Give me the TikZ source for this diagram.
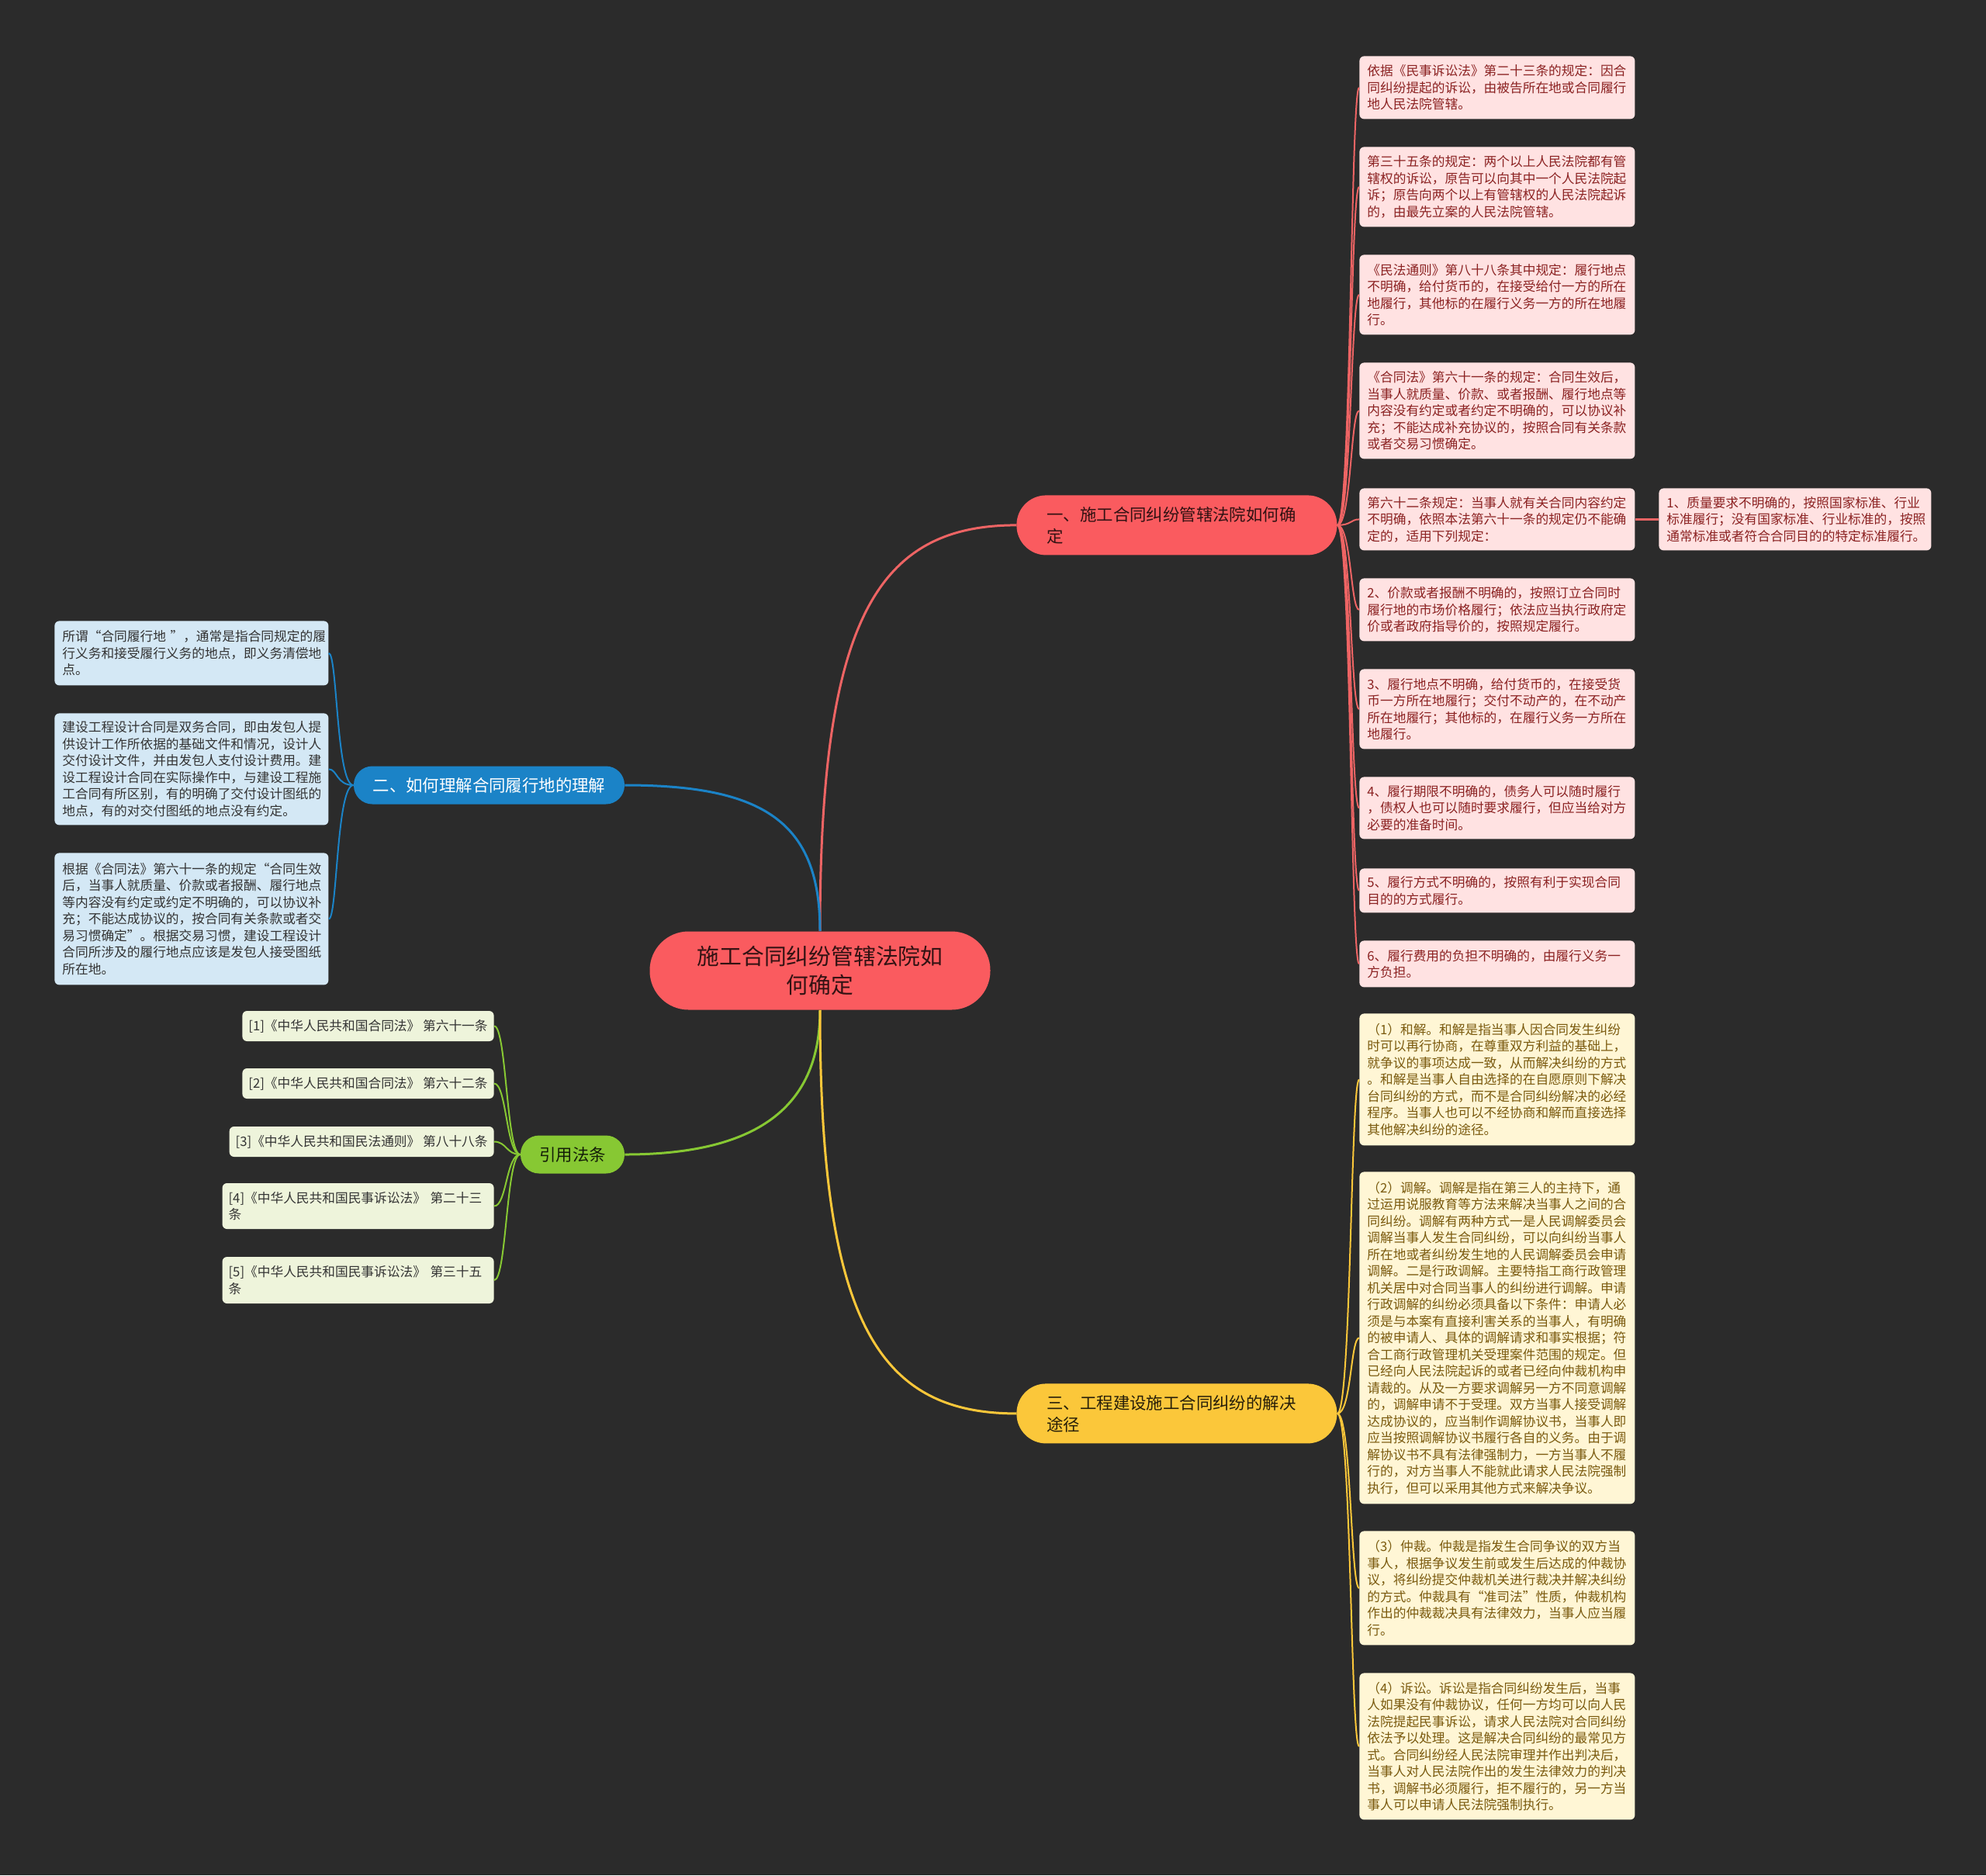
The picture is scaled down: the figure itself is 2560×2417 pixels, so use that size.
\documentclass[tikz,border=0pt]{standalone}
\usepackage{fontspec}
\newfontfamily\cjk{Noto Sans CJK SC}
\newcommand\leaffont{\cjk\fontsize{8.35pt}{10.75pt}\selectfont}
\newcommand\branchfont{\cjk\fontsize{10.7pt}{13.9pt}\selectfont}
\newcommand\rootfont{\cjk\fontsize{14.4pt}{18.8pt}\selectfont}

\definecolor{bgcol}{HTML}{2B2B2B}
\definecolor{rootcol}{HTML}{FA5B5F}
\definecolor{redline}{HTML}{EE6464}
\definecolor{redleaf}{HTML}{FFE2E2}
\definecolor{redtext}{HTML}{8B2222}
\definecolor{bluecol}{HTML}{1B83C7}
\definecolor{blueleaf}{HTML}{D4E8F5}
\definecolor{greencol}{HTML}{87C833}
\definecolor{greenleaf}{HTML}{EEF4DB}
\definecolor{yellowcol}{HTML}{FBC73A}
\definecolor{yellowleaf}{HTML}{FFF6D5}
\definecolor{yellowtext}{HTML}{7A5A0E}
\definecolor{darktext}{HTML}{333333}

\tikzset{
  leaf/.style={anchor=north west, rounded corners=3pt, inner xsep=5pt, inner ysep=0pt,
    text width=167.5pt, align=left, font=\leaffont},
  redbox/.style={leaf, fill=redleaf, text=redtext},
  bluebox/.style={leaf, fill=blueleaf, text=darktext},
  yellowbox/.style={leaf, fill=yellowleaf, text=yellowtext},
  greenbox/.style={anchor=east, rounded corners=3pt, inner xsep=4pt, inner ysep=0pt,
    minimum height=19.5pt, align=left, font=\leaffont, fill=greenleaf, text=darktext},
  bigbranch/.style={anchor=north west, rounded corners=19pt, inner xsep=19.5pt, inner ysep=0pt,
    text width=167.5pt, minimum height=38.5pt, align=left, font=\branchfont},
  smallbranch/.style={rounded corners=12pt, inner sep=0pt, minimum height=24.5pt,
    align=center, font=\branchfont},
  mainline/.style={line width=1.5pt},
  subline/.style={line width=1pt},
}

\begin{document}
\begin{tikzpicture}[x=0.5pt,y=-0.5pt]
\useasboundingbox (0,0) rectangle (2560,2417);
\fill[bgcol] (0,0) rectangle (2560,2417);

% root
\node[fill=rootcol, text=black!80!rootcol, rounded corners=25pt, minimum width=219.5pt,
  minimum height=50.5pt, inner sep=0pt, align=center, font=\rootfont] (rootn) at (1057,1251)
  {施工合同纠纷管辖法院如\\何确定};

% branches
\node[bigbranch, fill=rootcol, text=black!80!rootcol] (br1) at (1310,638)
  {一、施工合同纠纷管辖法院如何确\\定};
\node[smallbranch, fill=bluecol, text=white, minimum width=174.5pt] (br2) at (630.5,1012)
  {二、如何理解合同履行地的理解};
\node[smallbranch, fill=greencol, text=black!85!greencol, minimum width=67pt] (br3) at (738,1488)
  {引用法条};
\node[bigbranch, fill=yellowcol, text=black!85!yellowcol] (br4) at (1310,1783)
  {三、工程建设施工合同纠纷的解决\\途径};

% branch one
\node[redbox, minimum height=40.5pt] (r1) at (1752,72)
  {依据《民事诉讼法》第二十三条的规定：因合\\
   同纠纷提起的诉讼，由被告所在地或合同履行\\
   地人民法院管辖。};
\node[redbox, minimum height=51.5pt] (r2) at (1752,189)
  {第三十五条的规定：两个以上人民法院都有管\\
   辖权的诉讼，原告可以向其中一个人民法院起\\
   诉；原告向两个以上有管辖权的人民法院起诉\\
   的，由最先立案的人民法院管辖。};
\node[redbox, minimum height=51.5pt] (r3) at (1752,328)
  {《民法通则》第八十八条其中规定：履行地点\\
   不明确，给付货币的，在接受给付一方的所在\\
   地履行，其他标的在履行义务一方的所在地履\\
   行。};
\node[redbox, minimum height=62pt] (r4) at (1752,467)
  {《合同法》第六十一条的规定：合同生效后，\\
   当事人就质量、价款、或者报酬、履行地点等\\
   内容没有约定或者约定不明确的，可以协议补\\
   充；不能达成补充协议的，按照合同有关条款\\
   或者交易习惯确定。};
\node[redbox, minimum height=40pt] (r5) at (1752,629)
  {第六十二条规定：当事人就有关合同内容约定\\
   不明确，依照本法第六十一条的规定仍不能确\\
   定的，适用下列规定：};
\node[redbox, minimum height=40pt, text width=165.5pt] (r5a) at (2138,629)
  {1、质量要求不明确的，按照国家标准、行业\\
   标准履行；没有国家标准、行业标准的，按照\\
   通常标准或者符合合同目的的特定标准履行。};
\node[redbox, minimum height=40.5pt] (r6) at (1752,745)
  {2、价款或者报酬不明确的，按照订立合同时\\
   履行地的市场价格履行；依法应当执行政府定\\
   价或者政府指导价的，按照规定履行。};
\node[redbox, minimum height=51.5pt] (r7) at (1752,862)
  {3、履行地点不明确，给付货币的，在接受货\\
   币一方所在地履行；交付不动产的，在不动产\\
   所在地履行；其他标的，在履行义务一方所在\\
   地履行。};
\node[redbox, minimum height=40pt] (r8) at (1752,1001)
  {4、履行期限不明确的，债务人可以随时履行\\
   ，债权人也可以随时要求履行，但应当给对方\\
   必要的准备时间。};
\node[redbox, minimum height=28.5pt] (r9) at (1752,1119)
  {5、履行方式不明确的，按照有利于实现合同\\
   目的的方式履行。};
\node[redbox, minimum height=30pt] (r10) at (1752,1212)
  {6、履行费用的负担不明确的，由履行义务一\\
   方负担。};

% branch two
\node[bluebox, minimum height=41.5pt, text width=166.5pt] (b1) at (70,800)
  {\mbox{所谓“合同履行地 ”，通常是指合同规定的履}\\
   行义务和接受履行义务的地点，即义务清偿地\\
   点。};
\node[bluebox, minimum height=72pt, text width=166.5pt] (b2) at (70,919)
  {建设工程设计合同是双务合同，即由发包人提\\
   供设计工作所依据的基础文件和情况，设计人\\
   交付设计文件，并由发包人支付设计费用。建\\
   设工程设计合同在实际操作中，与建设工程施\\
   工合同有所区别，有的明确了交付设计图纸的\\
   地点，有的对交付图纸的地点没有约定。};
\node[bluebox, minimum height=85pt, text width=166.5pt] (b3) at (70,1099)
  {根据《合同法》第六十一条的规定“合同生效\\
   后，当事人就质量、价款或者报酬、履行地点\\
   等内容没有约定或约定不明确的，可以协议补\\
   充；不能达成协议的，按合同有关条款或者交\\
   易习惯确定”。根据交易习惯，建设工程设计\\
   合同所涉及的履行地点应该是发包人接受图纸\\
   所在地。};

% references
\node[greenbox] (g1) at (637,1322.5) {[1]《中华人民共和国合同法》 第六十一条};
\node[greenbox] (g2) at (637,1396.5) {[2]《中华人民共和国合同法》 第六十二条};
\node[greenbox] (g3) at (637,1471.5) {[3]《中华人民共和国民法通则》 第八十八条};
\node[greenbox, text width=167pt, minimum height=29.5pt] (g4) at (637,1554.5)
  {[4]《中华人民共和国民事诉讼法》 第二十三\\条};
\node[greenbox, text width=167pt, minimum height=30pt] (g5) at (637,1650)
  {[5]《中华人民共和国民事诉讼法》 第三十五\\条};

% branch three
\node[yellowbox, minimum height=85pt] (y1) at (1752,1306)
  {（1）和解。和解是指当事人因合同发生纠纷\\
   时可以再行协商，在尊重双方利益的基础上，\\
   就争议的事项达成一致，从而解决纠纷的方式\\
   。和解是当事人自由选择的在自愿原则下解决\\
   台同纠纷的方式，而不是合同纠纷解决的必经\\
   程序。当事人也可以不经协商和解而直接选择\\
   其他解决纠纷的途径。};
\node[yellowbox, minimum height=214pt] (y2) at (1752,1510)
  {（2）调解。调解是指在第三人的主持下，通\\
   过运用说服教育等方法来解决当事人之间的合\\
   同纠纷。调解有两种方式一是人民调解委员会\\
   调解当事人发生合同纠纷，可以向纠纷当事人\\
   所在地或者纠纷发生地的人民调解委员会申请\\
   调解。二是行政调解。主要特指工商行政管理\\
   机关居中对合同当事人的纠纷进行调解。申请\\
   行政调解的纠纷必须具备以下条件：申请人必\\
   须是与本案有直接利害关系的当事人，有明确\\
   的被申请人、具体的调解请求和事实根据；符\\
   合工商行政管理机关受理案件范围的规定。但\\
   已经向人民法院起诉的或者已经向仲裁机构申\\
   请裁的。从及一方要求调解另一方不同意调解\\
   的，调解申请不于受理。双方当事人接受调解\\
   达成协议的，应当制作调解协议书，当事人即\\
   应当按照调解协议书履行各自的义务。由于调\\
   解协议书不具有法律强制力，一方当事人不履\\
   行的，对方当事人不能就此请求人民法院强制\\
   执行，但可以采用其他方式来解决争议。};
\node[yellowbox, minimum height=73.5pt] (y3) at (1752,1973)
  {（3）仲裁。仲裁是指发生合同争议的双方当\\
   事人，根据争议发生前或发生后达成的仲裁协\\
   议，将纠纷提交仲裁机关进行裁决并解决纠纷\\
   的方式。仲裁具有“准司法”性质，仲裁机构\\
   作出的仲裁裁决具有法律效力，当事人应当履\\
   行。};
\node[yellowbox, minimum height=94.5pt] (y4) at (1752,2156)
  {（4）诉讼。诉讼是指合同纠纷发生后，当事\\
   人如果没有仲裁协议，任何一方均可以向人民\\
   法院提起民事诉讼，请求人民法院对合同纠纷\\
   依法予以处理。这是解决合同纠纷的最常见方\\
   式。合同纠纷经人民法院审理并作出判决后，\\
   当事人对人民法院作出的发生法律效力的判决\\
   书，调解书必须履行，拒不履行的，另一方当\\
   事人可以申请人民法院强制执行。};

% connectors from the root
\draw[mainline, redline] (rootn.north) .. controls +(0,-400) and +(-180,0) .. (br1.west);
\draw[mainline, bluecol] (rootn.north) .. controls +(0,-140) and +(180,0) .. (br2.east);
\draw[mainline, greencol] (rootn.south) .. controls +(0,118) and +(180,0) .. (br3.east);
\draw[mainline, yellowcol] (rootn.south) .. controls +(0,398) and +(-180,0) .. (br4.west);

% brackets
\foreach \n in {r1,r2,r3,r4,r5,r6,r7,r8,r9,r10}
  \draw[subline, redline] (br1.east) .. controls +(18,0) and +(-11,0) .. (\n.west);
\draw[mainline, redline] (r5.east) -- (r5a.west);
\foreach \n in {b1,b2,b3}
  \draw[subline, bluecol] (br2.west) .. controls +(-22,0) and +(11,0) .. (\n.east);
\foreach \n in {g1,g2,g3,g4,g5}
  \draw[subline, greencol] (br3.west) .. controls +(-18,0) and +(16,0) .. (\n.east);
\foreach \n in {y1,y2,y3,y4}
  \draw[subline, yellowcol] (br4.east) .. controls +(18,0) and +(-11,0) .. (\n.west);
\end{tikzpicture}
\end{document}
